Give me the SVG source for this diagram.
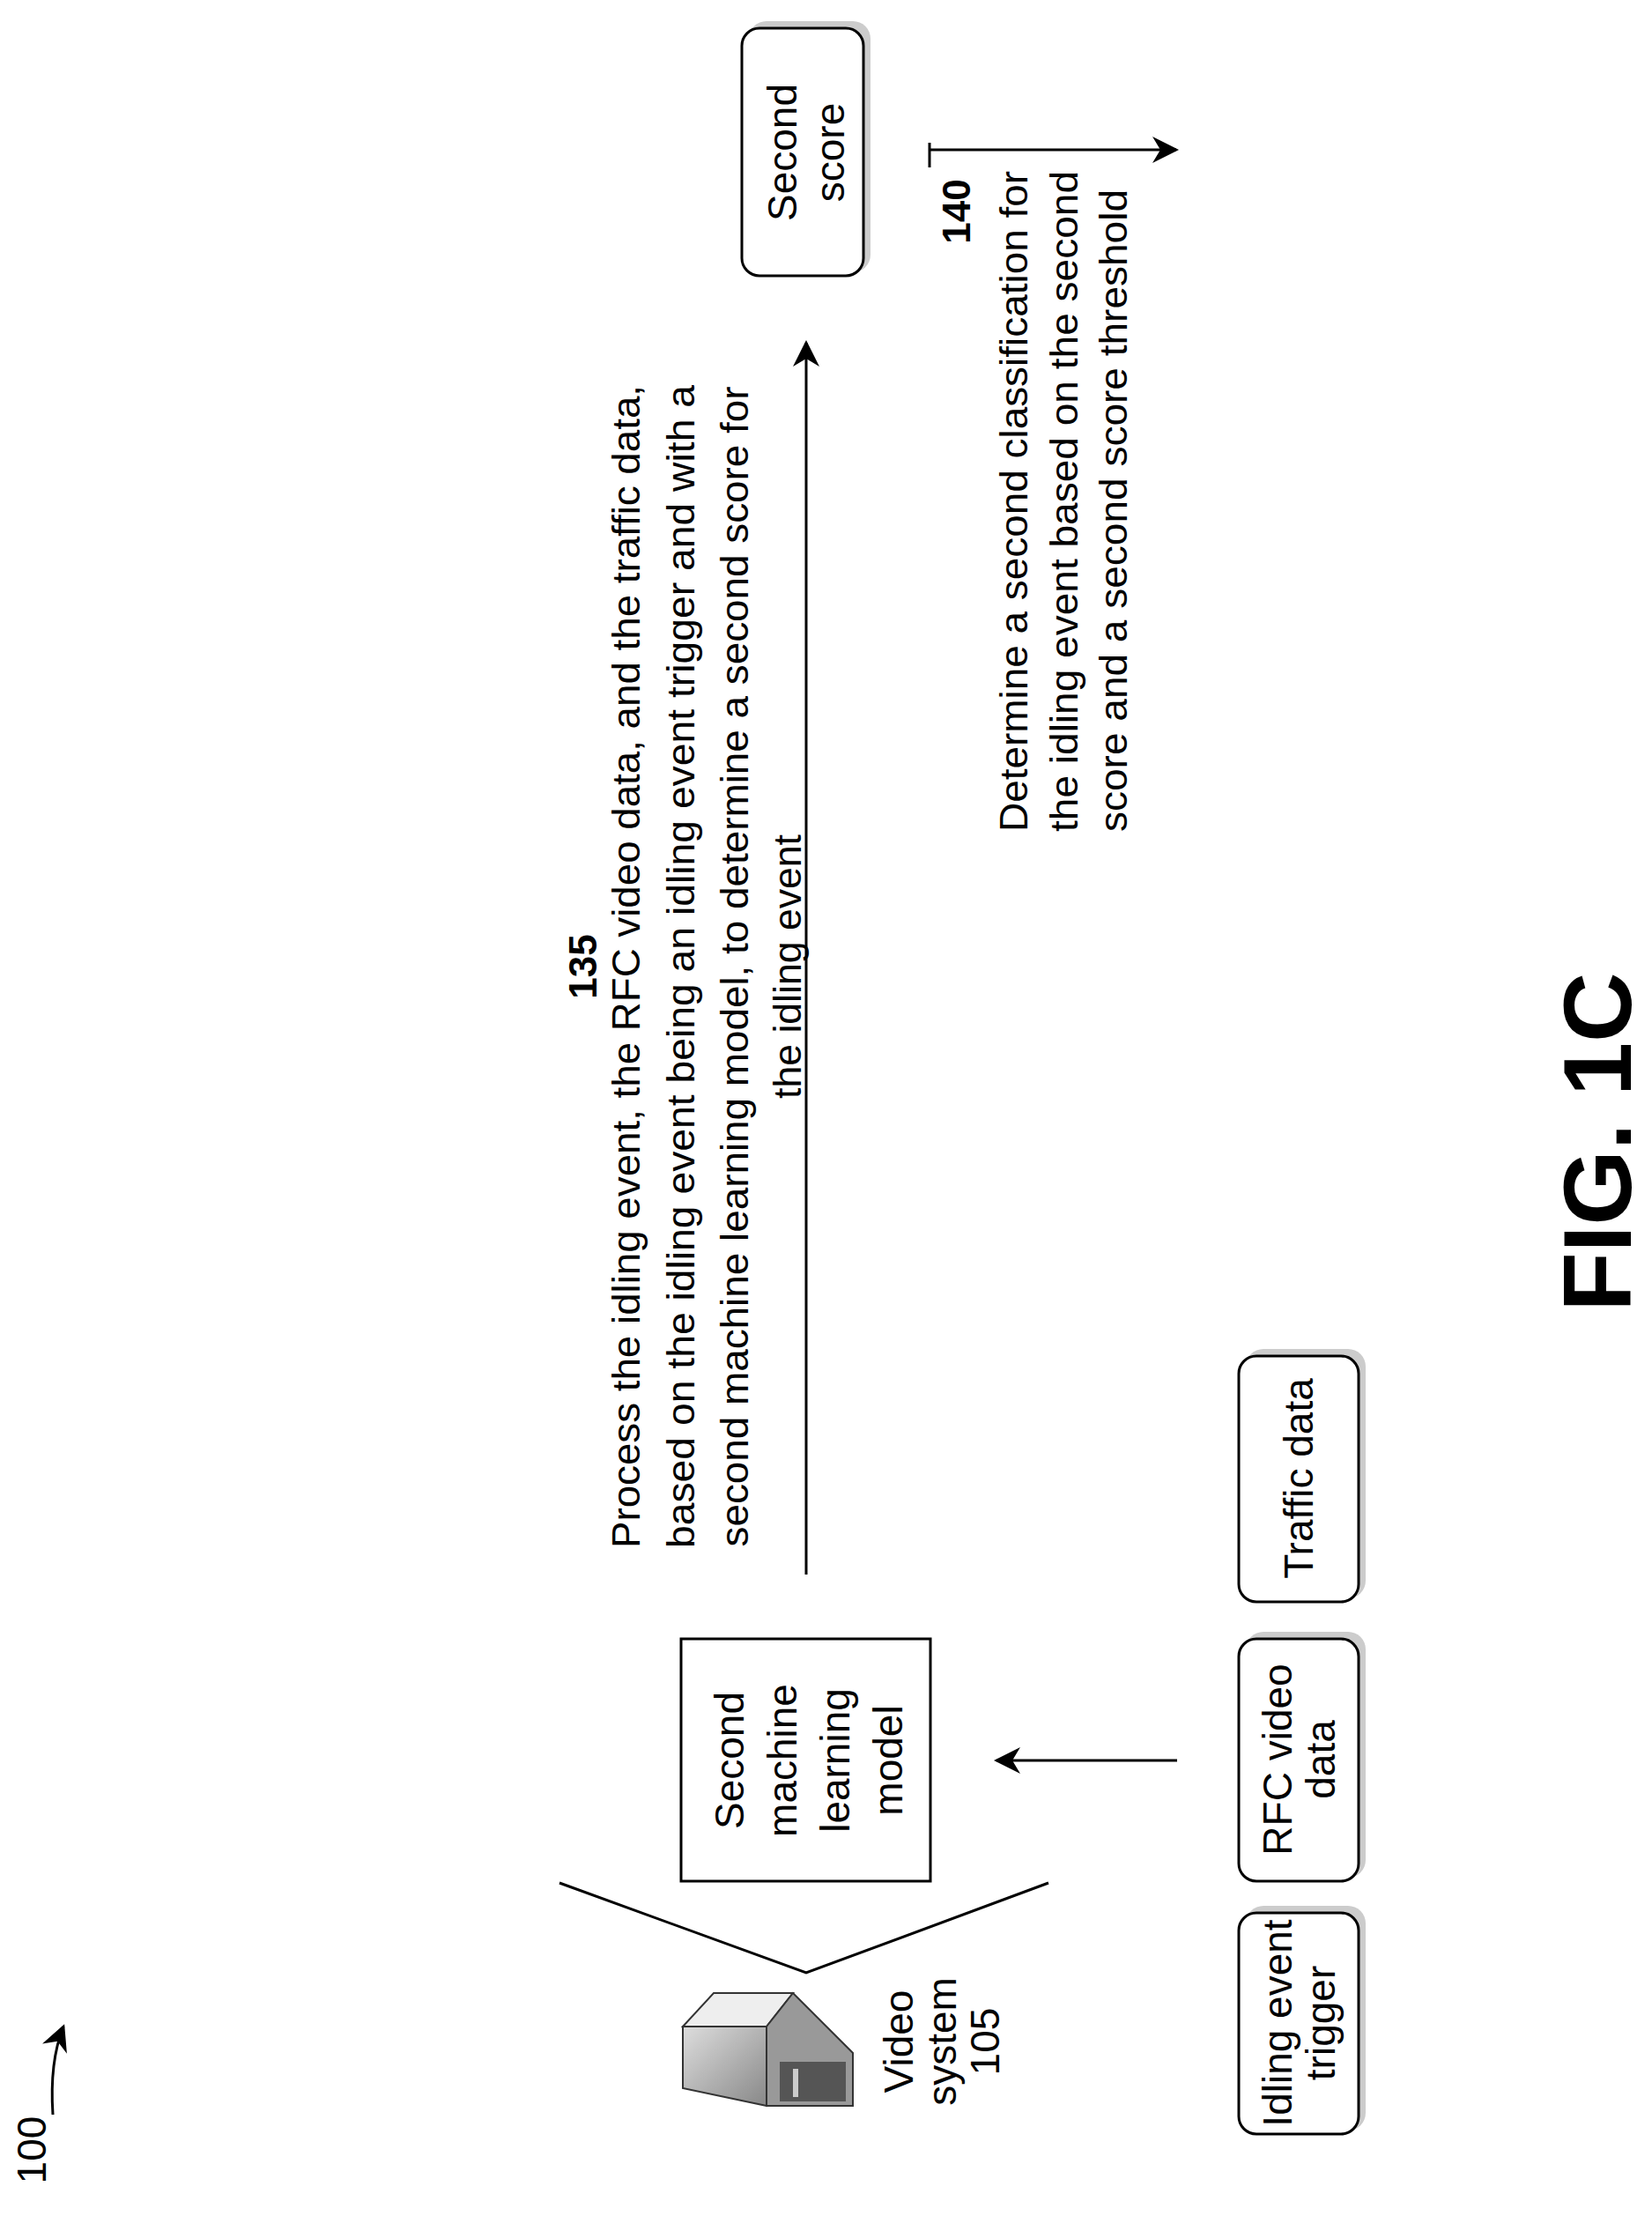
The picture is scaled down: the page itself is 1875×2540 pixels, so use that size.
<svg xmlns="http://www.w3.org/2000/svg" width="1875" height="2540" viewBox="0 0 1875 2540">
<style>
.t{font-family:"Liberation Sans",Arial,sans-serif;fill:#000;dominant-baseline:central;text-anchor:middle}
.n{font-family:"Liberation Sans Narrow","Liberation Sans",Arial,sans-serif;font-size:44px}
.b{font-size:46px}
.ln{stroke:#000;stroke-width:3;fill:none}
.rb{fill:#fff;stroke:#000;stroke-width:3}
.sh{fill:#ccc}
</style>
<defs>
<marker id="ah2" viewBox="0 0 10 10" refX="9" refY="5" markerWidth="34" markerHeight="30" markerUnits="userSpaceOnUse" orient="auto"><path d="M0,0 L10,5 L0,10 L3,5 z" fill="#000"/></marker>
<linearGradient id="g" x1="0" y1="0" x2="1" y2="1"><stop offset="0" stop-color="#ddd"/><stop offset="1" stop-color="#888"/></linearGradient>
</defs>
<g id="label100">
<text class="t b" transform="translate(36,2440) rotate(-90)">100</text>
<path class="ln" d="M60,2400 Q56,2340 72,2300" marker-end="url(#ah2)"/>
</g>
<g id="video-system">
<polygon points="775,2300 810,2262 900,2262 870,2300" fill="#eee" stroke="#333" stroke-width="2"/>
<polygon points="775,2300 870,2300 870,2390 775,2370" fill="url(#g)" stroke="#333" stroke-width="2"/>
<polygon points="870,2300 900,2262 968,2330 968,2390 870,2390" fill="#999" stroke="#333" stroke-width="2"/>
<rect x="885" y="2340" width="75" height="45" fill="#555"/>
<rect x="900" y="2348" width="6" height="32" fill="#ccc"/>
<text class="t b" transform="translate(1020,2317) rotate(-90)">Video</text>
<text class="t b" transform="translate(1069,2317) rotate(-90)">system</text>
<text class="t b" transform="translate(1118,2317) rotate(-90)">105</text>
</g>
<g id="ml-model">
<polyline class="ln" points="635,2137 915,2239 1190,2137"/>
<rect x="773" y="1860" width="283" height="275" fill="#fff" stroke="#000" stroke-width="3"/>
<text class="t b" transform="translate(828,1998) rotate(-90)">Second</text>
<text class="t b" transform="translate(888,1998) rotate(-90)">machine</text>
<text class="t b" transform="translate(948,1998) rotate(-90)">learning</text>
<text class="t b" transform="translate(1008,1998) rotate(-90)">model</text>
</g>
<g id="idling-trigger">
<rect class="sh" x="1414" y="2163" width="136" height="255" rx="20"/>
<rect class="rb" x="1406" y="2171" width="136" height="251" rx="20"/>
<text class="t b" transform="translate(1450,2296) rotate(-90)">Idling event</text>
<text class="t b" transform="translate(1499,2296) rotate(-90)">trigger</text>
</g>
<g id="rfc-video">
<rect class="sh" x="1414" y="1852" width="136" height="279" rx="20"/>
<rect class="rb" x="1406" y="1860" width="136" height="275" rx="20"/>
<text class="t b" transform="translate(1450,1997) rotate(-90)">RFC video</text>
<text class="t b" transform="translate(1499,1997) rotate(-90)">data</text>
</g>
<g id="traffic-data">
<rect class="sh" x="1414" y="1531" width="136" height="283" rx="20"/>
<rect class="rb" x="1406" y="1539" width="136" height="279" rx="20"/>
<text class="t b" transform="translate(1474,1678) rotate(-90)">Traffic data</text>
</g>
<g id="second-score">
<rect class="sh" x="850" y="24" width="138" height="285" rx="20"/>
<rect class="rb" x="842" y="32" width="138" height="281" rx="20"/>
<text class="t b" transform="translate(888,173) rotate(-90)">Second</text>
<text class="t b" transform="translate(942,173) rotate(-90)">score</text>
</g>
<g id="step135">
<text class="t n" font-weight="bold" transform="translate(661,1097) rotate(-90)">135</text>
<text class="t n" textLength="1320" lengthAdjust="spacingAndGlyphs" transform="translate(710,1097) rotate(-90)">Process the idling event, the RFC video data, and the traffic data,</text>
<text class="t n" textLength="1320" lengthAdjust="spacingAndGlyphs" transform="translate(772,1097) rotate(-90)">based on the idling event being an idling event trigger and with a</text>
<text class="t n" textLength="1317" lengthAdjust="spacingAndGlyphs" transform="translate(833,1097) rotate(-90)">second machine learning model, to determine a second score for</text>
<text class="t n" textLength="300" lengthAdjust="spacingAndGlyphs" transform="translate(893,1097) rotate(-90)">the idling event</text>
</g>
<g id="step140">
<text class="t n" font-weight="bold" transform="translate(1085,240) rotate(-90)">140</text>
<text class="t n" style="text-anchor:start" textLength="750" lengthAdjust="spacingAndGlyphs" transform="translate(1150,944) rotate(-90)">Determine a second classification for</text>
<text class="t n" style="text-anchor:start" textLength="750" lengthAdjust="spacingAndGlyphs" transform="translate(1207,944) rotate(-90)">the idling event based on the second</text>
<text class="t n" style="text-anchor:start" textLength="729" lengthAdjust="spacingAndGlyphs" transform="translate(1263,944) rotate(-90)">score and a second score threshold</text>
</g>
<g id="connectors">
<line class="ln" x1="1336" y1="1998" x2="1131" y2="1998" marker-end="url(#ah2)"/>
<line class="ln" x1="915" y1="1787" x2="915" y2="389" marker-end="url(#ah2)"/>
<line class="ln" x1="1055" y1="170" x2="1335" y2="170" marker-end="url(#ah2)"/>
<line class="ln" x1="1055" y1="162" x2="1055" y2="190"/>
</g>
<text class="t" font-weight="bold" font-size="110" transform="translate(1812,1296) rotate(-90)">FIG. 1C</text>
</svg>
